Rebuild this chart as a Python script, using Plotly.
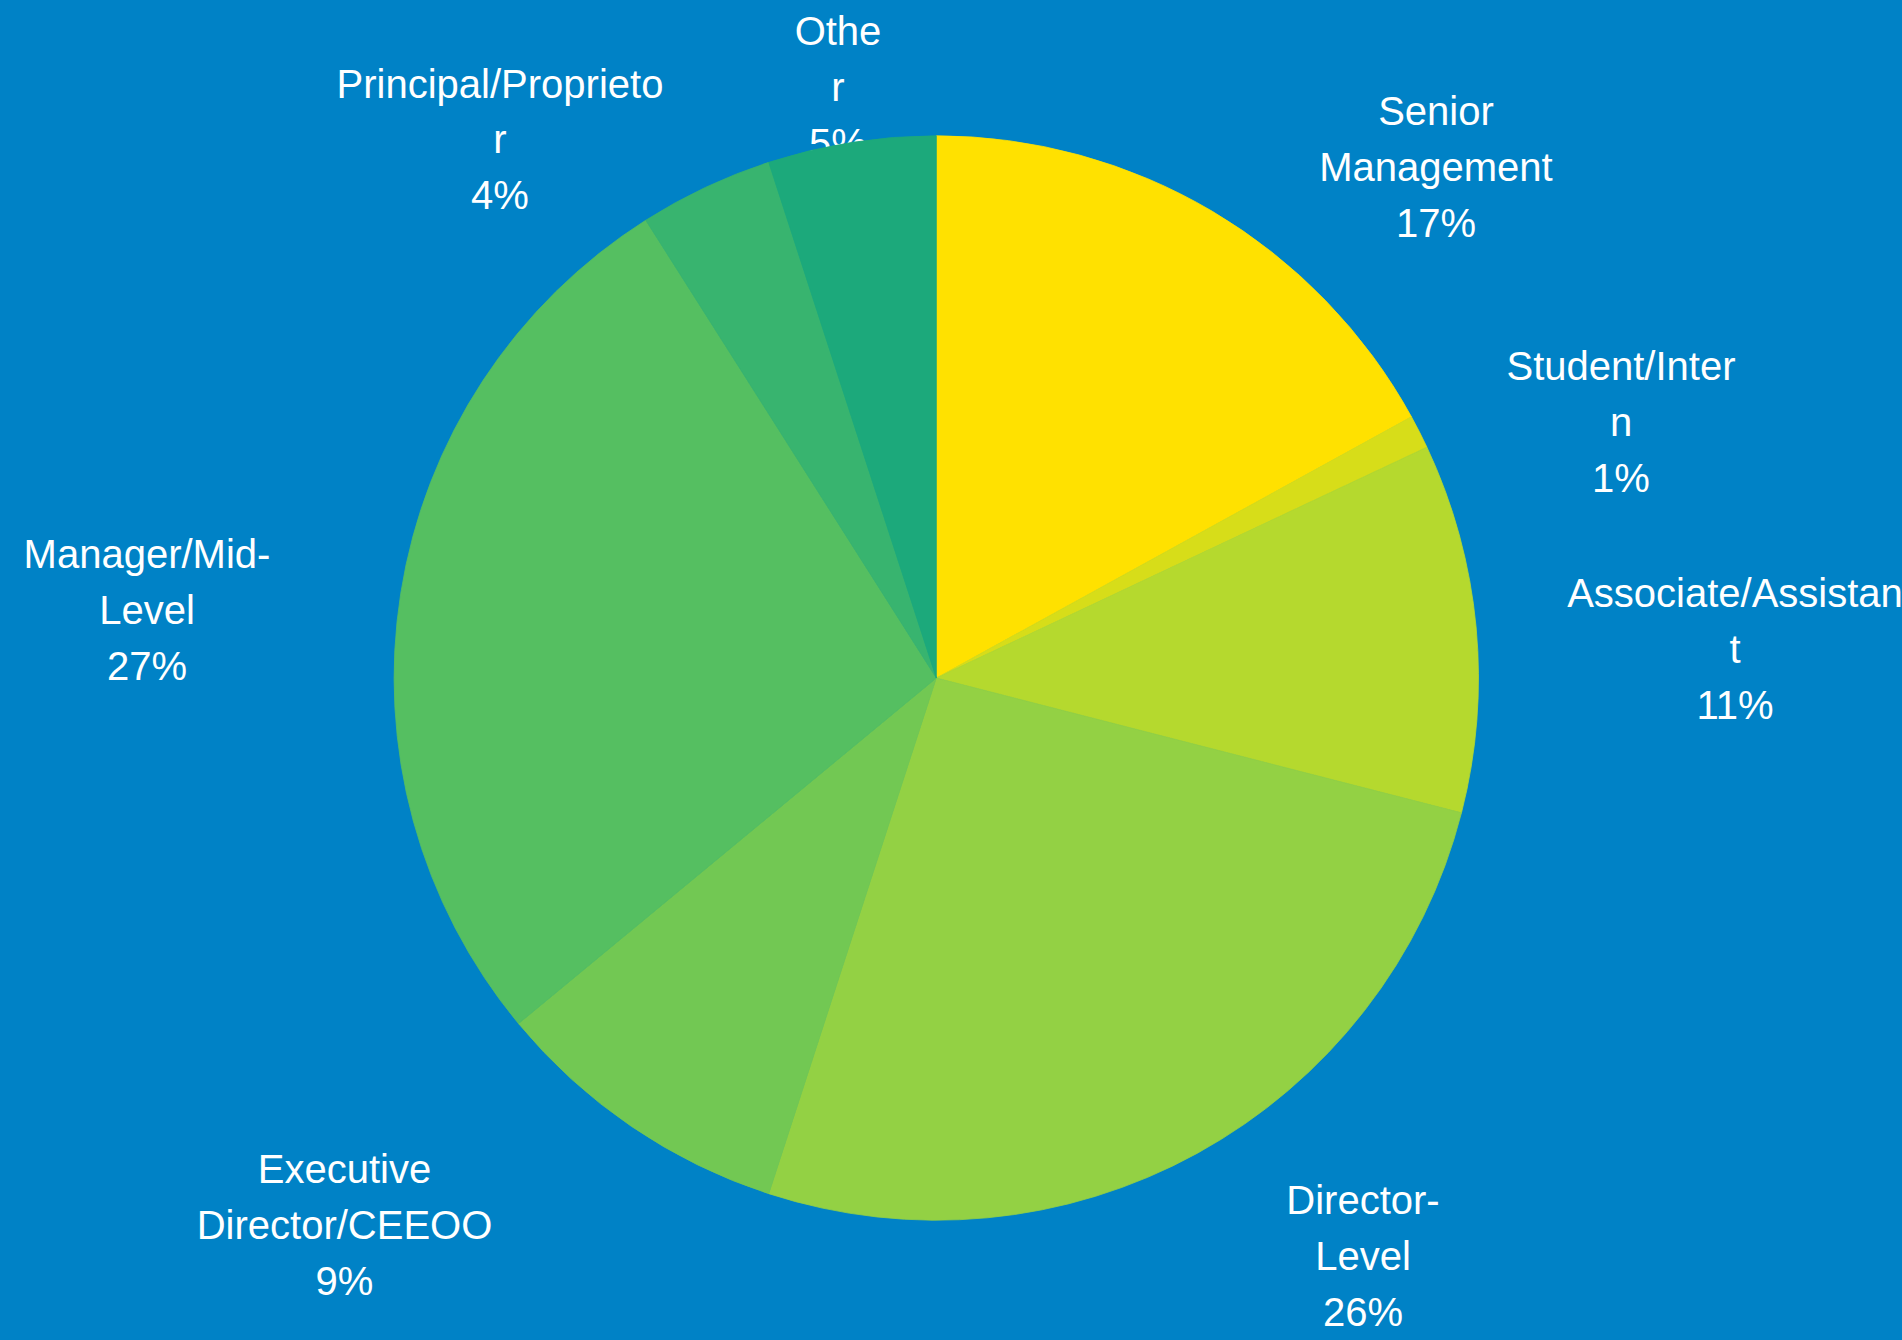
import plotly.graph_objects as go

# ---- data ----
categories = [
    "Senior Management",
    "Student/Intern",
    "Associate/Assistant",
    "Director-Level",
    "Executive Director/CEEOO",
    "Manager/Mid-Level",
    "Principal/Proprietor",
    "Other",
]
values = [17, 1, 11, 26, 9, 27, 4, 5]
# wrapped label text as shown in the chart
label_lines = [
    ["Senior", "Management"],
    ["Student/Inter", "n"],
    ["Associate/Assistan", "t"],
    ["Director-", "Level"],
    ["Executive", "Director/CEEOO"],
    ["Manager/Mid-", "Level"],
    ["Principal/Proprieto", "r"],
    ["Othe", "r"],
]

# ---- styles / layout ----
colors = ["#FFE100", "#D7DD19", "#B5D92E", "#93D144",
          "#72C853", "#55BF61", "#38B46F", "#1CA97B"]
BG = "#0082C6"
W, H = 1902, 1340
CX, CY, R = 936.3, 678.0, 542.2
FONT = "Liberation Sans, Arial, sans-serif"
FS = 40
LINE_H = 55.8
Y_SHIFT = 5
# label block placement (x centre, y of first line) in page pixels
label_pos = [
    (1436, 110), (1621, 365), (1735, 592), (1363, 1199),
    (344.5, 1168), (147, 553), (500, 82.5), (838, 30),
]

total = sum(values)
tx, ty, tt = [], [], []
for lines, v, (lx, ly) in zip(label_lines, values, label_pos):
    all_lines = lines + [f"{round(v / total * 100)}%"]
    for i, s in enumerate(all_lines):
        tx.append(lx)
        ty.append(ly + Y_SHIFT + i * LINE_H)
        tt.append(s)

fig = go.Figure()

# labels sit underneath the pie (as in the original, where "5%" is covered)
fig.add_trace(go.Scatter(
    x=tx, y=ty, text=tt, mode="text",
    textposition="middle center",
    textfont=dict(family=FONT, size=FS, color="white"),
    hoverinfo="skip", showlegend=False,
))

fig.add_trace(go.Pie(
    labels=categories, values=values,
    sort=False, direction="clockwise", rotation=0,
    marker=dict(colors=colors, line=dict(color=colors, width=0.8)),
    textinfo="none", hoverinfo="label+percent",
    showlegend=False,
    domain=dict(x=[(CX - R) / W, (CX + R) / W],
                y=[1 - (CY + R) / H, 1 - (CY - R) / H]),
))

fig.update_layout(
    width=W, height=H,
    margin=dict(l=0, r=0, t=0, b=0),
    paper_bgcolor=BG, plot_bgcolor=BG,
    xaxis=dict(range=[0, W], visible=False, fixedrange=True, domain=[0, 1]),
    yaxis=dict(range=[H, 0], visible=False, fixedrange=True, domain=[0, 1]),
    showlegend=False,
)

fig.write_html("out.html")
